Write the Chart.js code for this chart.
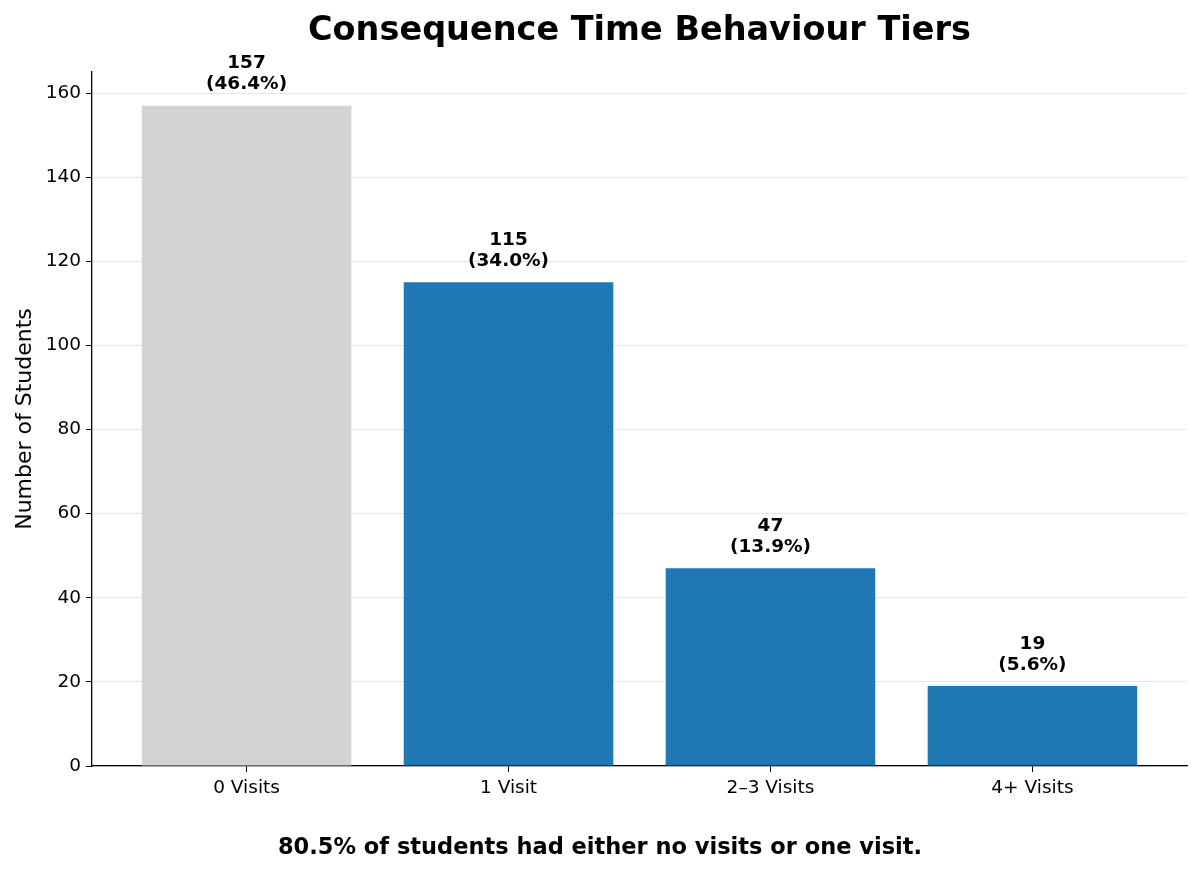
<!DOCTYPE html>
<html>
<head>
<meta charset="utf-8">
<style>
  html, body { margin: 0; padding: 0; background: #fff; }
  #wrap { width: 1200px; height: 872px; }
</style>
<script src="https://cdn.jsdelivr.net/npm/chart.js@4/dist/chart.umd.min.js"></script>
</head>
<body>
<div id="wrap"><canvas id="chart" width="1200" height="872"></canvas></div>
<script>
// data
const categories = ['0 Visits', '1 Visit', '2\u20133 Visits', '4+ Visits'];
const counts = [157, 115, 47, 19];
const barColors = ['#d3d3d3', '#1f77b4', '#1f77b4', '#1f77b4'];
const yTicks = [0, 20, 40, 60, 80, 100, 120, 140, 160];

const chartTitle = 'Consequence Time Behaviour Tiers';
const yTitle = 'Number of Students';
const footerText = '80.5% of students had either no visits or one visit.';

const total = counts.reduce((a, b) => a + b, 0);
const FONT = "'DejaVu Sans', sans-serif";

// bar labels + title + footer text
const textPlugin = {
    id: 'textPlugin',
    afterDatasetsDraw(chart) {
        const ctx = chart.ctx;
        const meta = chart.getDatasetMeta(0);
        ctx.save();
        ctx.fillStyle = '#000';
        ctx.textAlign = 'center';
        ctx.textBaseline = 'middle';
        ctx.font = 'bold 18.5px ' + FONT;
        meta.data.forEach((bar, i) => {
            const pct = (counts[i] / total * 100).toFixed(1);
            ctx.fillText(String(counts[i]), bar.x, bar.y - 42);
            ctx.fillText('(' + pct + '%)', bar.x, bar.y - 21);
        });
        ctx.restore();
    },
    afterDraw(chart) {
        const ctx = chart.ctx;
        const area = chart.chartArea;
        ctx.save();
        ctx.fillStyle = '#000';
        ctx.textAlign = 'center';
        ctx.textBaseline = 'middle';
        ctx.font = 'bold 33.5px ' + FONT;
        ctx.fillText(chartTitle, (area.left + area.right) / 2, 31);
        ctx.font = 'bold 22.5px ' + FONT;
        ctx.fillText(footerText, chart.width / 2, 848);
        ctx.restore();
    }
};

const ctx = document.getElementById('chart').getContext('2d');

new Chart(ctx, {
    type: 'bar',
    data: {
        datasets: [{
            data: counts.map((v, i) => ({ x: i, y: v })),
            backgroundColor: barColors,
            borderWidth: 0,
            barPercentage: 0.8,
            categoryPercentage: 1.0
        }]
    },
    options: {
        responsive: false,
        animation: false,
        layout: { padding: { top: 72, right: 13, left: 0, bottom: 0 } },
        plugins: {
            legend: { display: false },
            tooltip: { enabled: false }
        },
        scales: {
            x: {
                type: 'linear',
                offset: false,
                min: -0.59,
                max: 3.59,
                afterFit: (axis) => { axis.height = 106; },
                afterBuildTicks: (axis) => {
                    axis.ticks = categories.map((c, i) => ({ value: i }));
                },
                ticks: {
                    color: '#000',
                    font: { family: FONT, size: 18.5 },
                    padding: 5,
                    autoSkip: false,
                    maxRotation: 0,
                    callback: (v) => categories[v]
                },
                grid: {
                    offset: false,
                    drawOnChartArea: false,
                    drawTicks: true,
                    tickLength: 6,
                    tickColor: '#000'
                },
                border: { color: '#000', width: 1.3 }
            },
            y: {
                min: 0,
                max: 165,
                z: 1,
                afterFit: (axis) => { axis.width = 92; },
                afterBuildTicks: (axis) => {
                    axis.ticks = yTicks.map((v) => ({ value: v }));
                },
                ticks: {
                    color: '#000',
                    font: { family: FONT, size: 18.5 },
                    padding: 5
                },
                grid: {
                    color: 'rgba(150,150,150,0.25)',
                    lineWidth: 1,
                    drawTicks: true,
                    tickLength: 6,
                    tickColor: '#000'
                },
                border: { color: '#000', width: 1.3 },
                title: {
                    display: true,
                    text: yTitle,
                    color: '#000',
                    font: { family: FONT, size: 22 },
                    padding: { top: 12, bottom: 0 }
                }
            }
        }
    },
    plugins: [textPlugin]
});
</script>
</body>
</html>
